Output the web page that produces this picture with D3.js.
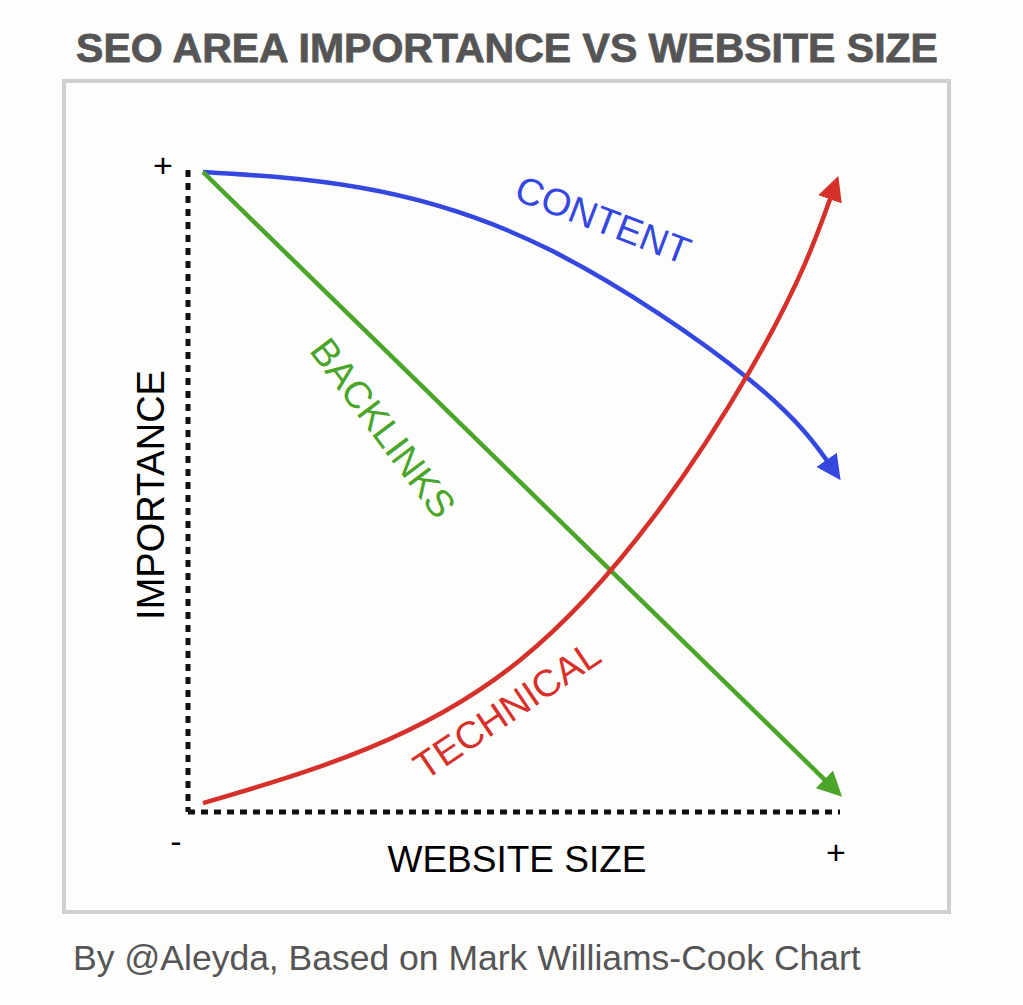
<!DOCTYPE html>
<html><head><meta charset="utf-8">
<script src="https://cdn.jsdelivr.net/npm/d3@7"></script>
<style>body{margin:0;background:#fdfdfb;}svg{display:block}</style>
</head><body><svg id="c" width="1023" height="1005"></svg>
<script>
const title = "SEO AREA IMPORTANCE VS WEBSITE SIZE";
const footer = "By @Aleyda, Based on Mark Williams-Cook Chart";
const contentX = [0, 25, 54.9, 86.6, 100];
const contentY = [100, 97.5, 87.7, 67.1, 52.6];
const backlinksX = [0, 100];
const backlinksY = [100, 2.4];
const technicalX = [0, 50.2, 86.6, 100];
const technicalY = [0.3, 22.9, 68.7, 97.9];
const seriesNames = ["CONTENT", "BACKLINKS", "TECHNICAL"];
const colors = ["#3448e0", "#4aa52a", "#d6302a"];

const svg = d3.select("#c");
const f = "Liberation Sans, Arial, sans-serif";
svg.append("rect").attr("width",1023).attr("height",1005).attr("fill","#fdfdfb");
svg.append("text").attr("x",507).attr("y",62).attr("text-anchor","middle")
  .attr("font-family",f).attr("font-weight","bold")
  .attr("font-size",41).attr("fill","#555").attr("stroke","#555").attr("stroke-width",0.8).text(title);
svg.append("rect").attr("x",64).attr("y",81).attr("width",885).attr("height",831)
  .attr("fill","#fdfdfb").attr("stroke","#cfcfcf").attr("stroke-width",4);
svg.append("text").attr("x",73).attr("y",970)
  .attr("font-family",f).attr("font-size",35.5).attr("fill","#555").text(footer);

const x = d3.scaleLinear().domain([0,100]).range([203,835]);
const y = d3.scaleLinear().domain([0,100]).range([805,172]);

svg.append("line").attr("x1",188).attr("x2",188).attr("y1",170).attr("y2",812)
  .attr("stroke","#111").attr("stroke-width",5).attr("stroke-dasharray","7,6");
svg.append("line").attr("x1",188).attr("x2",840).attr("y1",812).attr("y2",812)
  .attr("stroke","#111").attr("stroke-width",5).attr("stroke-dasharray","7,6");
svg.append("text").attr("x",163).attr("y",177).attr("text-anchor","middle").attr("font-family",f).attr("font-size",34).text("+");
svg.append("text").attr("x",176).attr("y",853).attr("text-anchor","middle").attr("font-family",f).attr("font-size",34).text("-");
svg.append("text").attr("x",836).attr("y",864).attr("text-anchor","middle").attr("font-family",f).attr("font-size",34).text("+");
svg.append("text").attr("x",517).attr("y",872).attr("text-anchor","middle").attr("font-family",f).attr("font-size",37).text("WEBSITE SIZE");
svg.append("text").attr("transform","translate(164,495) rotate(-90)").attr("text-anchor","middle").attr("font-family",f).attr("font-size",38).text("IMPORTANCE");

const defs = svg.append("defs");
colors.forEach((c,i)=>{
  defs.append("marker").attr("id","m"+i).attr("viewBox","0 0 10 10").attr("refX",6).attr("refY",5)
    .attr("markerWidth",5.5).attr("markerHeight",5.5).attr("orient","auto")
    .append("path").attr("d","M0,0 L10,5 L0,10 Z").attr("fill",c);
});
const line = d3.line().x(d=>x(d[0])).y(d=>y(d[1])).curve(d3.curveNatural);
const series = [d3.zip(contentX,contentY), d3.zip(backlinksX,backlinksY), d3.zip(technicalX,technicalY)];
series.forEach((s,i)=>{
  svg.append("path").attr("d",line(s)).attr("fill","none").attr("stroke",colors[i])
    .attr("stroke-width",4.5).attr("marker-end","url(#m"+i+")");
});
const labels = [[603,220,21],[383,428,53],[507,710,-34]];
labels.forEach((l,i)=>{
  svg.append("text").attr("transform",`translate(${l[0]},${l[1]}) rotate(${l[2]})`)
    .attr("text-anchor","middle").attr("dominant-baseline","central")
    .attr("font-family",f).attr("font-size",38).attr("fill",colors[i]).text(seriesNames[i]);
});
</script></body></html>
